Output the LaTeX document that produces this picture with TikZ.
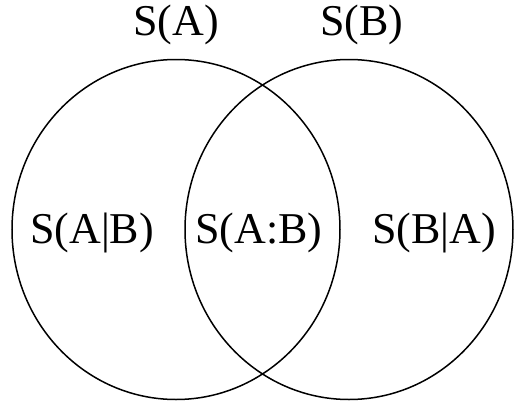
\documentclass[tikz,border=0pt]{standalone}
\usepackage{fontspec}
\newfontfamily\timesfont{Liberation Serif}
\begin{document}
\begin{tikzpicture}[x=1pt,y=-1pt,
  setline/.style={line width=1.5pt,black},
  lbl/.style={font=\timesfont\fontsize{44}{48}\selectfont,inner sep=0pt,anchor=base}]
  \useasboundingbox (0,0) rectangle (515,405);
  % the two sets
  \draw[setline] (176,229.5) ellipse [x radius=164pt, y radius=170pt];
  \draw[setline] (349,229.5) ellipse [x radius=164pt, y radius=170pt];
  % set names above
  \node[lbl] (sa) at (176,35) {S(A)};
  \node[lbl] (sb) at (362,35) {S(B)};
  % regions
  \node[lbl] (ab) at (92,243) {S(A|B)};
  \node[lbl] (mi) at (259,243) {S(A:B)};
  \node[lbl] (ba) at (434,243) {S(B|A)};
\end{tikzpicture}
\end{document}
